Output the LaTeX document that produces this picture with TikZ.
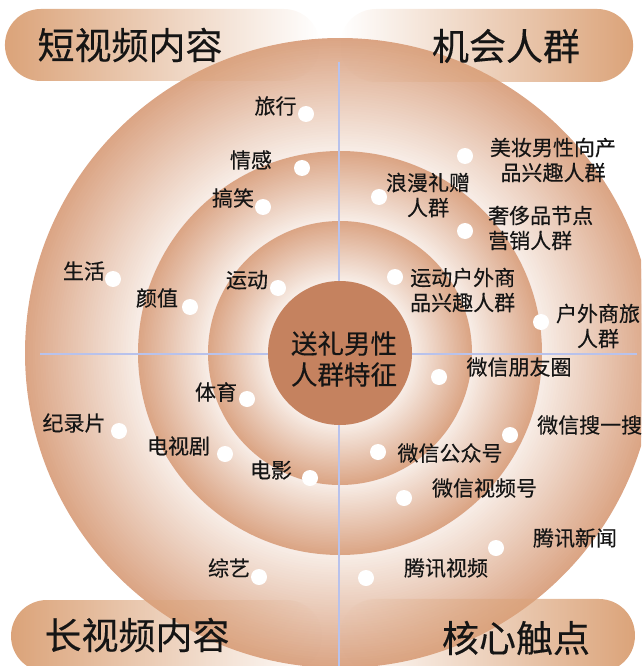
\documentclass[tikz,border=0pt]{standalone}
\usepackage{fontspec}
\setmainfont{Noto Sans CJK SC}[FakeBold=0.3]
\usetikzlibrary{fadings}
\definecolor{ringdark}{HTML}{DBA585}
\definecolor{ringlight}{HTML}{F8EEE8}
\definecolor{coreclr}{HTML}{C5825F}
\definecolor{pilltan}{HTML}{DBA379}
\definecolor{axisclr}{HTML}{B8C2EC}
\definecolor{txtclr}{HTML}{151515}
\tikzfading[name=fadeR, left color=transparent!0, right color=transparent!100]
\tikzfading[name=fadeL, left color=transparent!100, right color=transparent!0]
\newcommand\myring[2]{%
 \foreach \i in {0,...,45}{%
   \pgfmathsetmacro\rr{#1-(#1-#2)*\i/45}%
   \pgfmathsetmacro\pp{100-100*\i/45}%
   \fill[ringdark!\pp!ringlight] (340,353) circle[radius=\rr pt];
 }}
\begin{document}
\begin{tikzpicture}[x=1pt,y=-1pt,
  lbl/.style={inner sep=0pt, font=\fontsize{21}{25}\selectfont, text=txtclr},
  dot/.style={circle, fill=white, minimum size=16pt, inner sep=0pt},
  pilltext/.style={inner sep=0pt, font=\fontsize{37}{40}\selectfont, text=txtclr},
  pill/.style={fill=pilltan, rounded corners=36pt}]
\useasboundingbox (0,0) rectangle (641,666);
\clip (0,0) rectangle (641,666);
% rings
\myring{315}{202}
\myring{202}{132}
\myring{132}{72}
% axes
\draw[axisclr, line width=1.2pt] (339,62) -- (339,666);
\draw[axisclr, line width=1.2pt] (40,354) -- (637,354);
% core
\node[circle, fill=coreclr, minimum size=144pt, inner sep=0pt] (core) at (340,353) {};
\node[inner sep=0pt, align=center, font=\fontsize{26.5}{31}\selectfont, text=txtclr] (coretext) at (344,359) {送礼男性\\人群特征};
% dots
\node[dot] (d1) at (306,114) {};
\node[dot] (d2) at (302,168) {};
\node[dot] (d3) at (263,207) {};
\node[dot] (d4) at (278,288) {};
\node[dot] (d5) at (113,279) {};
\node[dot] (d6) at (190,307) {};
\node[dot] (d7) at (119,431) {};
\node[dot] (d8) at (247,399) {};
\node[dot] (d9) at (225,454) {};
\node[dot] (d10) at (310,478) {};
\node[dot] (d11) at (259,577) {};
\node[dot] (d12) at (465,156) {};
\node[dot] (d13) at (379,197) {};
\node[dot] (d14) at (465,231) {};
\node[dot] (d15) at (395,277) {};
\node[dot] (d16) at (541,322) {};
\node[dot] (d17) at (439,377) {};
\node[dot] (d18) at (510,435) {};
\node[dot] (d19) at (378,452) {};
\node[dot] (d20) at (404,498) {};
\node[dot] (d21) at (496,548) {};
\node[dot] (d22) at (366,578) {};
% labels
\node[lbl] (l1) at (275.5,106) {旅行};
\node[lbl] (l2) at (251,160) {情感};
\node[lbl] (l3) at (233,198) {搞笑};
\node[lbl] (l4) at (247,280) {运动};
\node[lbl] (l5) at (84,271) {生活};
\node[lbl] (l6) at (157,298) {颜值};
\node[lbl] (l7) at (74,423) {纪录片};
\node[lbl] (l8) at (216,392) {体育};
\node[lbl] (l9) at (178.5,446) {电视剧};
\node[lbl] (l10) at (271,470) {电影};
\node[lbl] (l11) at (229,568) {综艺};
\node[lbl, align=center] (l12) at (553,160) {美妆男性向产\\品兴趣人群};
\node[lbl, align=center] (l13) at (428,195) {浪漫礼赠\\人群};
\node[lbl, align=left, anchor=west] (l14) at (488,228) {奢侈品节点\\营销人群};
\node[lbl, align=left, anchor=west] (l15) at (410,290) {运动户外商\\品兴趣人群};
\node[lbl, align=center] (l16) at (598,326) {户外商旅\\人群};
\node[lbl] (l17) at (519,367) {微信朋友圈};
\node[lbl, anchor=west] (l18) at (537,425) {微信搜一搜};
\node[lbl] (l19) at (450,453) {微信公众号};
\node[lbl] (l20) at (484.5,488) {微信视频号};
\node[lbl] (l21) at (575,538) {腾讯新闻};
\node[lbl] (l22) at (446,568) {腾讯视频};
% pills
\fill[pill, path fading=fadeR] (5,9) rectangle (320,81);
\fill[pill, path fading=fadeL] (340,9) rectangle (633,82);
\fill[pill, path fading=fadeR] (11,600) rectangle (322,672);
\fill[pill, path fading=fadeL] (340,599) rectangle (635,672);
\node[pilltext] (p1) at (130,45) {短视频内容};
\node[pilltext] (p2) at (506,46) {机会人群};
\node[pilltext] (p3) at (137,635) {长视频内容};
\node[pilltext] (p4) at (516,638) {核心触点};
\end{tikzpicture}
\end{document}
